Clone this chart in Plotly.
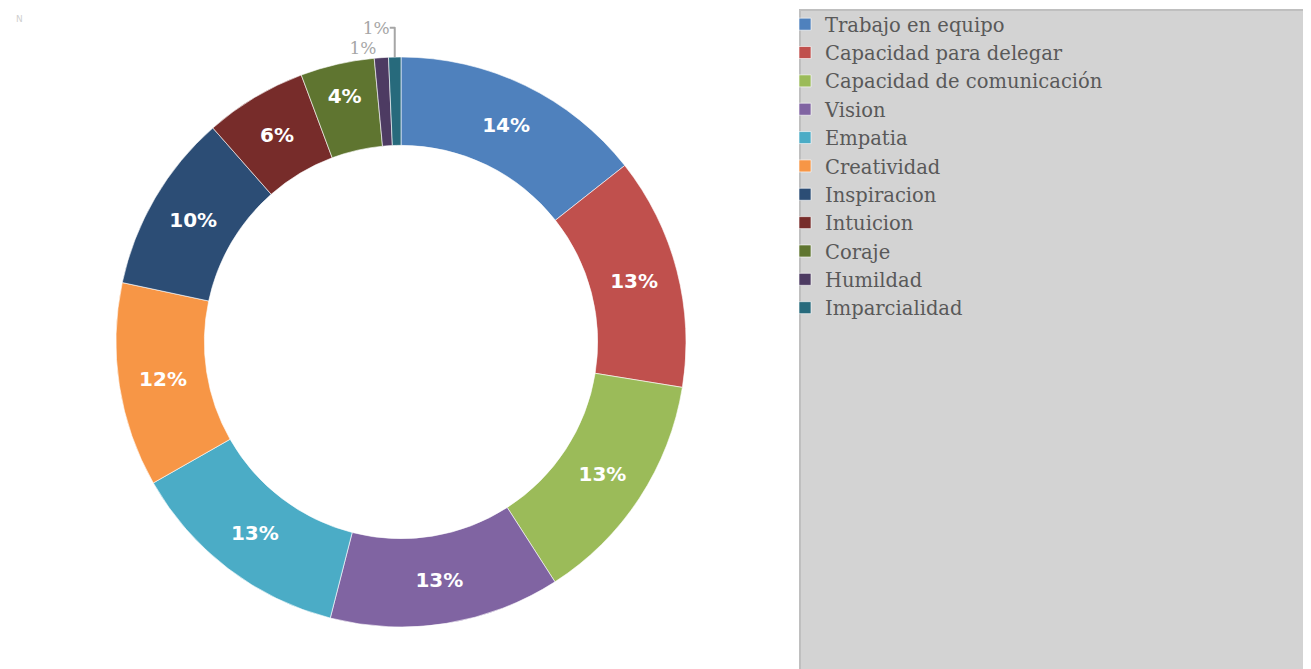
import plotly.graph_objects as go

categories = ["Trabajo en equipo", "Capacidad para delegar", "Capacidad de comunicación",
              "Vision", "Empatia", "Creatividad", "Inspiracion", "Intuicion",
              "Coraje", "Humildad", "Imparcialidad"]
values = [14.4, 13.2, 13.4, 13.1, 12.8, 11.6, 10.2, 5.8, 4.2, 0.8, 0.7]
colors = ["#4F81BD", "#C0504D", "#9BBB59", "#8064A2", "#4BACC6", "#F79646",
          "#2C4D75", "#772C2A", "#5F7530", "#4D3B62", "#276A7C"]
text_positions = ["inside"] * 9 + ["outside"] * 2

W, H = 1303, 661  # page body has an 8px margin

fig = go.Figure()
fig.add_trace(go.Pie(
    labels=categories,
    values=values,
    sort=False,
    direction="clockwise",
    rotation=0,
    hole=0.69,
    marker=dict(colors=colors, line=dict(color="rgba(255,255,255,0.6)", width=1)),
    texttemplate="%{percent:.0%}",
    textposition=text_positions,
    insidetextorientation="horizontal",
    insidetextfont=dict(family="DejaVu Sans", size=20, color="white", weight="bold"),
    outsidetextfont=dict(family="DejaVu Serif", size=17, color="#A6A6A6"),
    domain=dict(x=[108 / W, 678 / W], y=[42 / H, 612 / H]),
    automargin=False,
    showlegend=True,
))

fig.update_layout(
    width=W, height=H,
    margin=dict(l=0, r=0, t=0, b=0, autoexpand=False),
    paper_bgcolor="white",
    plot_bgcolor="white",
    shapes=[dict(type="rect", xref="paper", yref="paper",
                 x0=792 / W, x1=1.02, y0=-0.02, y1=1 - 2 / H,
                 fillcolor="#D3D3D3", line=dict(color="#BFBFBF", width=2), layer="below")],
    legend=dict(
        x=777 / W, y=1 + 3 / H, xanchor="left", yanchor="top",
        bgcolor="rgba(0,0,0,0)",
        font=dict(family="DejaVu Serif", size=19.5, color="#595959"),
        itemwidth=30,
        tracegroupgap=0,
    ),
    annotations=[dict(text="N", x=6 / W, y=1 - 4 / H, xref="paper", yref="paper",
                      showarrow=False, font=dict(size=9, color="#D0D0D0", family="DejaVu Sans"))],
)

fig.write_html("out.html")
